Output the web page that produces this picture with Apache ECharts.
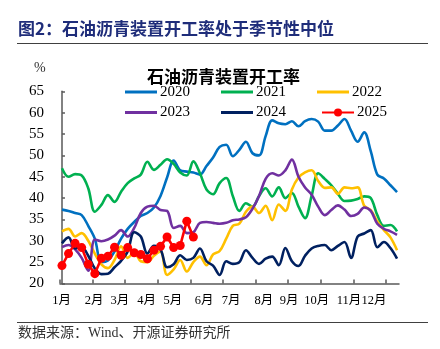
<!DOCTYPE html>
<html>
<head>
<meta charset="utf-8">
<script src="https://cdn.jsdelivr.net/npm/echarts@6/dist/echarts.min.js"></script>
<style>
html,body{margin:0;padding:0;background:#fff;}
#chart{width:440px;height:349px;}
</style>
</head>
<body>
<div id="chart"></div>
<script>
// ---- data (weekly points, index 0..51) ----
var seriesNames = ['2020', '2021', '2022', '2023', '2024', '2025'];
var y2020 = [37.3, 37.0, 36.5, 36.0, 33.5, 30.5, 25.0, 25.4, 27.5, 30.5, 32.8, 34.4, 35.8, 36.5, 37.8, 40.5, 44.8, 48.8, 46.5, 46.2, 46.0, 45.5, 47.5, 49.5, 52.0, 52.5, 49.8, 51.3, 53.2, 50.5, 50.0, 54.5, 58.2, 57.5, 57.3, 58.0, 56.8, 58.0, 58.5, 57.9, 55.8, 55.8, 57.0, 58.5, 55.8, 53.2, 55.4, 51.0, 45.5, 44.6, 43.0, 41.4];
var y2021 = [47.0, 45.0, 45.6, 45.3, 42.3, 36.8, 38.4, 40.7, 39.1, 41.5, 43.5, 44.6, 45.5, 48.5, 46.6, 47.8, 49.1, 48.0, 46.0, 45.3, 48.6, 45.8, 42.0, 40.9, 43.5, 44.7, 40.5, 37.0, 38.8, 38.0, 40.5, 42.3, 40.4, 42.5, 40.0, 41.2, 38.0, 35.3, 40.5, 45.8, 44.5, 43.0, 41.0, 39.3, 39.4, 39.8, 40.4, 40.0, 36.0, 33.5, 33.7, 32.2];
var y2022 = [32.2, 32.8, 31.0, 31.8, 30.0, 27.0, 24.5, 23.6, 25.5, 28.7, 26.0, 27.2, 25.2, 25.0, 26.5, 27.5, 22.0, 23.3, 25.5, 22.8, 25.0, 26.3, 24.3, 26.8, 27.6, 30.5, 33.5, 34.0, 36.8, 38.0, 36.5, 38.2, 34.8, 38.5, 37.0, 42.0, 44.8, 46.0, 46.5, 44.0, 42.4, 42.5, 41.0, 42.5, 42.3, 42.5, 38.2, 37.2, 34.5, 32.5, 30.8, 27.8];
var y2023 = [28.5, 29.0, 28.0, 26.0, 23.0, 30.3, 29.9, 30.3, 31.2, 32.5, 31.0, 33.0, 36.5, 38.0, 38.2, 37.2, 37.0, 33.0, 33.5, 31.8, 32.0, 34.2, 34.4, 34.2, 34.0, 34.2, 34.8, 35.0, 35.5, 37.5, 40.5, 44.5, 45.8, 45.3, 46.5, 49.0, 45.0, 42.5, 40.8, 38.0, 36.0, 37.2, 38.3, 37.3, 35.8, 36.3, 37.8, 37.0, 34.0, 32.8, 32.2, 31.4];
var y2024 = [29.4, 30.8, 28.2, 28.5, 26.5, 23.5, 22.2, 22.3, 23.8, 25.3, 27.5, 32.0, 31.0, 27.0, 28.8, 28.0, 23.8, 24.5, 26.6, 25.5, 26.0, 28.2, 25.2, 24.2, 22.0, 25.2, 24.6, 25.0, 27.8, 26.0, 24.6, 25.8, 26.3, 24.3, 28.3, 25.2, 24.1, 26.5, 28.2, 28.8, 29.0, 27.8, 28.8, 29.7, 26.0, 31.0, 31.7, 32.5, 28.5, 29.7, 28.3, 25.8];
var y2025 = [24.2, 27.0, 29.4, 28.4, 24.5, 22.3, 25.9, 26.4, 28.5, 26.6, 28.4, 27.2, 26.8, 25.8, 27.8, 28.7, 30.9, 28.4, 28.9, 34.6, 30.9];
var monthLabels = ['1月', '2月', '3月', '4月', '5月', '6月', '7月', '8月', '9月', '10月', '11月', '12月'];
var monthLabelAt = [-0.04, 4.88, 8.83, 12.9, 16.9, 21.62, 25.73, 30.75, 34.56, 38.77, 43.68, 47.49];
var yTicks = [20, 25, 30, 35, 40, 45, 50, 55, 60, 65];

// ---- build ----
var colors = ['#0070C0', '#00B050', '#FFC000', '#7030A0', '#002060', '#FF0000'];
var allData = [y2020, y2021, y2022, y2023, y2024, y2025];
function pts(arr) { return arr.map(function (v, i) { return [i, v]; }); }
var xMin = -0.3, xMax = 51.3;
var tickAt = [];
for (var k = 0; k <= 10; k++) tickAt.push(xMin + k * 4.96);

var serif = '"Liberation Serif", "Times New Roman", "Noto Sans CJK SC", serif';
var axisColor = '#595959';

var series = allData.map(function (arr, idx) {
  var is2025 = idx === 5;
  return {
    name: seriesNames[idx],
    type: 'line',
    data: pts(arr),
    smooth: is2025 ? false : 0.35,
    symbol: is2025 ? 'circle' : 'none',
    symbolSize: is2025 ? 9 : 0,
    showSymbol: is2025,
    z: is2025 ? 10 : 2 + idx,
    lineStyle: { color: colors[idx], width: 2.6 },
    itemStyle: { color: colors[idx] },
    emphasis: { disabled: true }
  };
});

function legendOf(names, left, top, lineIcon) {
  return {
    left: left, top: top, itemWidth: 32, itemHeight: lineIcon ? 3 : 10, itemGap: 31, padding: 0,
    data: names.map(function (n) { return lineIcon ? { name: n, icon: 'rect' } : { name: n }; }),
    textStyle: { fontSize: 15, fontFamily: serif, color: '#000', padding: [0, 0, 0, -2] },
    selectedMode: false
  };
}

function nearestLabel(v) {
  var best = 0, bd = Infinity;
  for (var j = 0; j < monthLabelAt.length; j++) {
    var d = Math.abs(monthLabelAt[j] - v);
    if (d < bd) { bd = d; best = j; }
  }
  return monthLabels[best];
}

var chart = echarts.init(document.getElementById('chart'), null, { renderer: 'canvas' });
chart.setOption({
  animation: false,
  backgroundColor: '#fff',
  color: colors,
  title: {
    text: '石油沥青装置开工率', left: 142, top: 63,
    textStyle: { fontSize: 17, fontWeight: 'bold', color: '#000', fontFamily: '"Noto Sans CJK SC", sans-serif' }
  },
  legend: [
    legendOf(['2020', '2021', '2022'], 125, 84.5, true),
    legendOf(['2023', '2024'], 125, 105, true),
    legendOf(['2025'], 321, 105, false)
  ],
  grid: { left: 60, right: 41, top: 91.3, bottom: 65.5, containLabel: false, outerBoundsMode: 'none' },
  xAxis: {
    type: 'value', min: xMin, max: xMax,
    axisLine: { show: true, lineStyle: { color: axisColor, width: 1.5 } },
    axisTick: { show: true, inside: true, length: 4, customValues: tickAt, lineStyle: { color: axisColor, width: 1.5 } },
    axisLabel: {
      customValues: monthLabelAt,
      formatter: function (v) { return nearestLabel(v); },
      margin: 11, fontSize: 12.5, color: '#000', fontFamily: serif, hideOverlap: false
    },
    splitLine: { show: false }
  },
  yAxis: {
    type: 'value', min: yTicks[0], max: yTicks[yTicks.length - 1], interval: 5,
    axisLine: { show: true, lineStyle: { color: axisColor, width: 1.5 } },
    axisTick: { show: true, inside: true, length: 3, lineStyle: { color: axisColor, width: 1.5 } },
    axisLabel: { margin: 16, fontSize: 15, color: '#000', fontFamily: serif },
    splitLine: { show: false }
  },
  graphic: [
    { type: 'text', left: 18, top: 20, style: { text: '图2：石油沥青装置开工率处于季节性中位', fill: '#1F2D7A', font: 'bold 17px "Noto Sans CJK SC", sans-serif' } },
    { type: 'line', shape: { x1: 17, y1: 43.5, x2: 428, y2: 43.5 }, style: { stroke: '#404040', lineWidth: 1.2 } },
    { type: 'text', left: 34, top: 61, style: { text: '%', fill: '#333', font: '14px "Liberation Serif", serif' } },
    { type: 'line', shape: { x1: 17, y1: 322.5, x2: 428, y2: 322.5 }, style: { stroke: '#404040', lineWidth: 1.2 } },
    { type: 'text', left: 18, top: 326, style: { text: '数据来源：Wind、开源证券研究所', fill: '#333', font: '14px "Liberation Serif", "Noto Sans CJK SC", serif' } }
  ],
  series: series
});
</script>
</body>
</html>
